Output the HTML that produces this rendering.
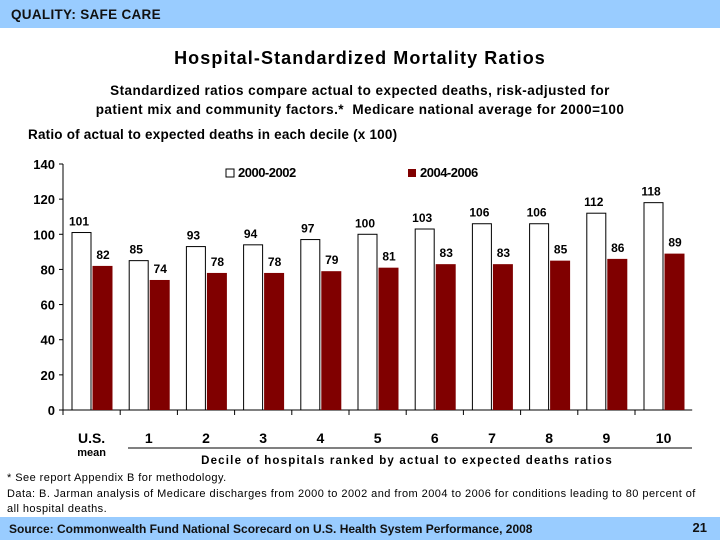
<!DOCTYPE html>
<html><head><meta charset="utf-8"><style>
body{margin:0;width:720px;height:540px;overflow:hidden;background:#fff;font-family:"Liberation Sans",Arial,sans-serif;position:relative}
.hdr{position:absolute;left:0;top:0;width:720px;height:28px;background:#99ccff}
.hdr span{position:absolute;left:11px;top:7px;font-size:13.5px;font-weight:bold;color:#111;letter-spacing:0.3px}
.t{position:absolute;left:0;width:720px;text-align:center;color:#000}
.ftr{position:absolute;left:0;top:517px;width:720px;height:23px;background:#99ccff}
.note{position:absolute;left:7px;font-size:11px;color:#000;letter-spacing:0.45px}
</style></head><body>
<div class="hdr"><span>QUALITY: SAFE CARE</span></div>
<div class="t" style="top:48px;font-size:18px;font-weight:bold;letter-spacing:1.1px;left:0">Hospital-Standardized Mortality Ratios</div>
<div class="t" style="top:81px;font-size:13.5px;font-weight:bold;line-height:19px;letter-spacing:0.45px;left:0">Standardized ratios compare actual to expected deaths, risk-adjusted for<br>patient mix and community factors.*&nbsp; Medicare national average for 2000=100</div>
<div style="position:absolute;left:28px;top:127px;font-size:13.5px;font-weight:bold;letter-spacing:0.2px">Ratio of actual to expected deaths in each decile (x 100)</div>
<svg id="chart" width="720" height="540" style="position:absolute;left:0;top:0"></svg>
<div class="note" style="top:472px">* See report Appendix B for methodology.</div>
<div class="note" style="top:487px;line-height:15px;width:712px;white-space:nowrap">Data: B. Jarman analysis of Medicare discharges from 2000 to 2002 and from 2004 to 2006 for conditions leading to 80 percent of<br>all hospital deaths.</div>
<div class="ftr">
<span style="position:absolute;left:9px;top:5px;font-size:12px;font-weight:bold;color:#111">Source: Commonwealth Fund National Scorecard on U.S. Health System Performance, 2008</span>
<span style="position:absolute;right:13px;top:3px;font-size:13px;font-weight:bold;color:#111">21</span>
</div>
<script>
const categories=["U.S.","1","2","3","4","5","6","7","8","9","10"];
const series2000=[101,85,93,94,97,100,103,106,106,112,118];
const series2004=[82,74,78,78,79,81,83,83,85,86,89];
const yTicks=[0,20,40,60,80,100,120,140];
const svg=document.getElementById('chart');
const NS='http://www.w3.org/2000/svg';
const x0=63,gw=57.2,yBase=410,yTop=164,yMax=140;
const y=v=>yBase-(v/yMax)*(yBase-yTop);
const gx=i=>x0+i*gw;
function mk(tag,attrs,txt){const e=document.createElementNS(NS,tag);for(const k in attrs)e.setAttribute(k,attrs[k]);if(txt!=null)e.textContent=txt;svg.appendChild(e);return e;}
let ax=mk('line',{x1:x0,y1:yTop,x2:x0,y2:yBase,stroke:'#000','stroke-width':1});


ax=mk('line',{x1:x0,y1:yBase,x2:gx(categories.length),y2:yBase,stroke:'#000','stroke-width':1});


yTicks.forEach(t=>{
 const l=mk('line',{x1:x0-4,y1:y(t),x2:x0,y2:y(t),stroke:'#000'});
 
 
 const tx=mk('text',{x:x0-8,y:y(t)+5,'text-anchor':'end','font-size':13,'font-weight':'bold','font-family':'Liberation Sans, sans-serif'},t);
 
 
});
for(let i=0;i<=categories.length-1;i++){
 const l=mk('line',{x1:gx(i),y1:yBase,x2:gx(i),y2:yBase+5,stroke:'#000'});
 
 
}
categories.forEach((c,i)=>{
 const g=gx(i);
 const b1=mk('rect',{x:g+9,y:y(series2000[i]),width:19,height:yBase-y(series2000[i]),fill:'#fff',stroke:'#000','stroke-width':1});
 
 
 const b2=mk('rect',{x:g+29.5,y:y(series2004[i]),width:20,height:yBase-y(series2004[i]),fill:'#800000'});
 
 
 const l1=mk('text',{x:g+16,y:y(series2000[i])-7,'text-anchor':'middle','font-size':12,'font-weight':'bold','font-family':'Liberation Sans, sans-serif'},series2000[i]);
 
 
 const l2=mk('text',{x:g+40,y:y(series2004[i])-7,'text-anchor':'middle','font-size':12,'font-weight':'bold','font-family':'Liberation Sans, sans-serif'},series2004[i]);
 
 
 const cl=mk('text',{x:g+gw/2,y:443,'text-anchor':'middle','font-size':14,'font-weight':'900','font-family':'Liberation Sans, sans-serif'},c);
 
 
});
let m=mk('text',{x:gx(0)+gw/2,y:456,'text-anchor':'middle','font-size':11,'font-weight':'900','font-family':'Liberation Sans, sans-serif'},'mean');


let sep=mk('line',{x1:128,y1:448,x2:692,y2:448,stroke:'#000'});


let xt=mk('text',{x:407,y:464,'text-anchor':'middle','font-size':11.5,'font-weight':'900','letter-spacing':'1.2','font-family':'Liberation Sans, sans-serif'},'Decile of hospitals ranked by actual to expected deaths ratios');


let lg=mk('rect',{x:226,y:169,width:8,height:8,fill:'#fff',stroke:'#000'});


lg=mk('text',{x:238,y:177,'font-size':13,'font-weight':'bold','letter-spacing':'-0.5','font-family':'Liberation Sans, sans-serif'},'2000-2002');


lg=mk('rect',{x:408,y:169,width:8,height:8,fill:'#800000'});


lg=mk('text',{x:420,y:177,'font-size':13,'font-weight':'bold','letter-spacing':'-0.5','font-family':'Liberation Sans, sans-serif'},'2004-2006');


</script>
</body></html>
